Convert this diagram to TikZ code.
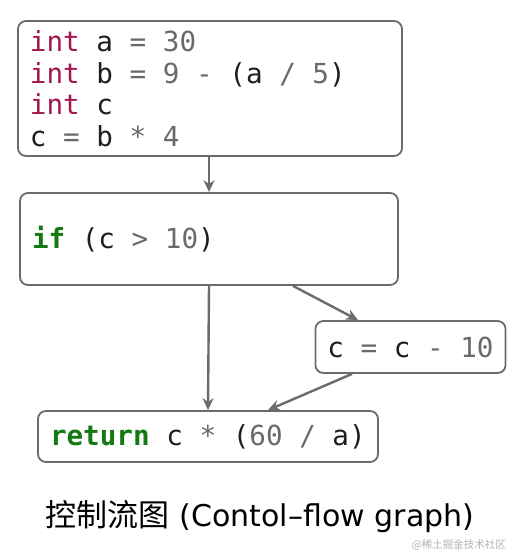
\documentclass[tikz,border=0pt]{standalone}
\usepackage{fontspec}
\newfontfamily\codefont{DejaVu Sans Mono}
\newfontfamily\cjk{Noto Sans CJK SC}
\newfontfamily\latin{DejaVu Sans}
\usetikzlibrary{arrows.meta}
\definecolor{kw}{HTML}{A3154F}
\definecolor{kg}{HTML}{137A13}
\definecolor{op}{HTML}{6A6A6A}
\definecolor{idc}{HTML}{1E1E1E}
\definecolor{edge}{HTML}{6B6B6B}
\newcommand{\kwI}[1]{\textcolor{kw}{#1}}
\newcommand{\kwG}[1]{\textcolor{kg}{\bfseries #1}}
\newcommand{\opc}[1]{\textcolor{op}{#1}}
\newcommand{\spc}{\hspace*{0.6021em}}
\tikzset{
  codebox/.style={draw=edge, line width=1.8pt, rounded corners=8pt, fill=white,
    inner xsep=12pt, inner ysep=0pt, align=left, text=idc,
    font=\codefont\fontsize{27.6}{31.5}\selectfont},
  arr/.style={draw=edge, line width=2.4pt, -{Stealth[length=12pt,width=11pt,inset=4pt]}}
}
\begin{document}
\begin{tikzpicture}[x=1pt,y=-1pt]
\useasboundingbox (0,0) rectangle (520,560);
\node[codebox, minimum width=384pt, minimum height=135pt, text width=360pt] (b1) at (210,88.5)
  {\kwI{int}\spc a\spc\opc{=}\spc\opc{30}\\
   \kwI{int}\spc b\spc\opc{=}\spc\opc{9}\spc\opc{-}\spc(a\spc\opc{/}\spc\opc{5})\\
   \kwI{int}\spc c\\
   c\spc\opc{=}\spc b\spc\opc{*}\spc\opc{4}};
\node[codebox, minimum width=378pt, minimum height=92pt, text width=354pt] (b2) at (209,239)
  {\kwG{if}\spc(c\spc\opc{>}\spc\opc{10})};
\node[codebox, minimum width=189pt, minimum height=52pt] (b3) at (410.5,347)
  {c\spc\opc{=}\spc c\spc\opc{-}\spc\opc{10}};
\node[codebox, minimum width=340pt, minimum height=51pt, text width=316pt] (b4) at (208,436.5)
  {\kwG{return}\spc c\spc\opc{*}\spc(\opc{60}\spc\opc{/}\spc a)};
\draw[arr] ([xshift=-1pt]b1.south) -- (b2.north);
\draw[arr] (b2.south) -- (b4.north);
\draw[arr] ([xshift=84pt]b2.south) -- ([xshift=-52.5pt]b3.north);
\draw[arr] ([xshift=-58.5pt]b3.south) -- ([xshift=60pt]b4.north);
\node[font=\cjk\fontsize{31}{36}\selectfont, text=black, inner sep=0pt] (cap) at (260,517)
  {控制流图\hspace{10pt}{\latin\fontsize{30}{36}\selectfont (Contol–flow graph)}};
\node[font=\cjk\fontsize{10.5}{12}\selectfont, text=black!30, inner sep=0pt, anchor=east] (wm) at (506,545)
  {@稀土掘金技术社区};
\end{tikzpicture}
\end{document}
